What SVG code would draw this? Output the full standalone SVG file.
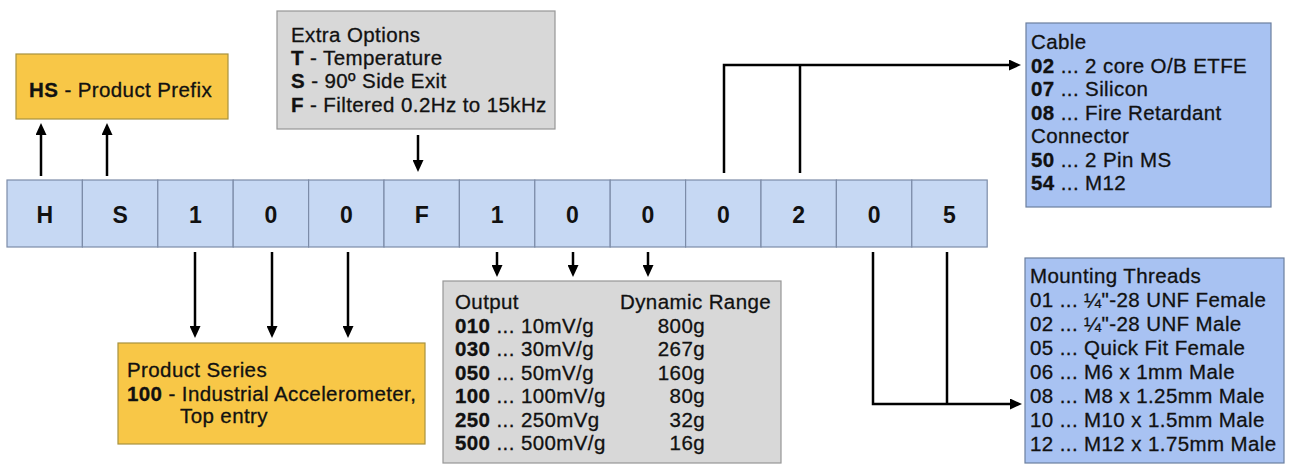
<svg xmlns="http://www.w3.org/2000/svg" width="1296" height="464" viewBox="0 0 1296 464">
<style>
  text { font-family: "Liberation Sans", Arial, sans-serif; fill: #111; }
  .t { font-size: 20.5px; letter-spacing: 0.4px; stroke: #111; stroke-width: 0.3px; }
  .b { font-weight: bold; }
  .cell rect { fill: #C6D8F3; stroke: #7C8CA8; stroke-width: 1.2; }
  .cell text { font-size: 23px; font-weight: bold; text-anchor: middle; }
  .gold { fill: #F8C747; stroke: #A8923E; stroke-width: 1.2; }
  .gray { fill: #D8D8D8; stroke: #979797; stroke-width: 1.2; }
  .blue { fill: #A8C2F2; stroke: #6C7F9E; stroke-width: 1.2; }
  .conn { fill: none; stroke: #000; stroke-width: 2.5; }
  .arr { marker-end: url(#ah); }
  .r { text-anchor: end; }
</style>
<defs>
  <marker id="ah" viewBox="0 0 12 11" refX="7" refY="5.5" markerWidth="12" markerHeight="11" markerUnits="userSpaceOnUse" orient="auto">
    <path d="M0,0 L12,5.5 L0,11 z" fill="#000"/>
  </marker>
</defs>
<rect width="1296" height="464" fill="#fff"/>

<g id="code">
  <g class="cell" id="c-H"><rect x="7" y="180" width="75.4" height="67"/><text x="44.7" y="223">H</text></g>
  <g class="cell" id="c-S"><rect x="82.4" y="180" width="75.4" height="67"/><text x="120.1" y="223">S</text></g>
  <g class="cell" id="c-1a"><rect x="157.8" y="180" width="75.4" height="67"/><text x="195.5" y="223">1</text></g>
  <g class="cell" id="c-0a"><rect x="233.2" y="180" width="75.4" height="67"/><text x="270.9" y="223">0</text></g>
  <g class="cell" id="c-0b"><rect x="308.6" y="180" width="75.4" height="67"/><text x="346.3" y="223">0</text></g>
  <g class="cell" id="c-F"><rect x="384" y="180" width="75.4" height="67"/><text x="421.7" y="223">F</text></g>
  <g class="cell" id="c-1b"><rect x="459.4" y="180" width="75.4" height="67"/><text x="497.1" y="223">1</text></g>
  <g class="cell" id="c-0c"><rect x="534.8" y="180" width="75.4" height="67"/><text x="572.5" y="223">0</text></g>
  <g class="cell" id="c-0d"><rect x="610.2" y="180" width="75.4" height="67"/><text x="647.9" y="223">0</text></g>
  <g class="cell" id="c-0e"><rect x="685.6" y="180" width="75.4" height="67"/><text x="723.3" y="223">0</text></g>
  <g class="cell" id="c-2"><rect x="761" y="180" width="75.4" height="67"/><text x="798.7" y="223">2</text></g>
  <g class="cell" id="c-0f"><rect x="836.4" y="180" width="75.4" height="67"/><text x="874.1" y="223">0</text></g>
  <g class="cell" id="c-5"><rect x="911.8" y="180" width="75.4" height="67"/><text x="949.5" y="223">5</text></g>
</g>

<g id="prefix">
  <rect class="gold" x="16" y="54" width="212" height="65"/>
  <text class="t" x="29" y="97"><tspan class="b">HS</tspan> - Product Prefix</text>
</g>

<g id="extra">
  <rect class="gray" x="277" y="11" width="278" height="118"/>
  <text class="t" x="291" y="41.7">Extra Options</text>
  <text class="t" x="291" y="65"><tspan class="b">T</tspan> - Temperature</text>
  <text class="t" x="291" y="88.3"><tspan class="b">S</tspan> - 90º Side Exit</text>
  <text class="t" x="291" y="111.7"><tspan class="b">F</tspan> - Filtered 0.2Hz to 15kHz</text>
</g>

<g id="series">
  <rect class="gold" x="118" y="343" width="307" height="101"/>
  <text class="t" x="127" y="377">Product Series</text>
  <text class="t" x="127" y="400.5"><tspan class="b">100</tspan> - Industrial Accelerometer,</text>
  <text class="t" x="180" y="423">Top entry</text>
</g>

<g id="output">
  <rect class="gray" x="443" y="281" width="338" height="182"/>
  <text class="t" x="455" y="309">Output</text>
  <text class="t" x="620" y="309">Dynamic Range</text>
  <text class="t" x="455" y="332.5"><tspan class="b">010</tspan> ... 10mV/g</text>
  <text class="t r" x="705" y="332.5">800g</text>
  <text class="t" x="455" y="356"><tspan class="b">030</tspan> ... 30mV/g</text>
  <text class="t r" x="705" y="356">267g</text>
  <text class="t" x="455" y="379.5"><tspan class="b">050</tspan> ... 50mV/g</text>
  <text class="t r" x="705" y="379.5">160g</text>
  <text class="t" x="455" y="403"><tspan class="b">100</tspan> ... 100mV/g</text>
  <text class="t r" x="705" y="403">80g</text>
  <text class="t" x="455" y="426.5"><tspan class="b">250</tspan> ... 250mVg</text>
  <text class="t r" x="705" y="426.5">32g</text>
  <text class="t" x="455" y="450"><tspan class="b">500</tspan> ... 500mV/g</text>
  <text class="t r" x="705" y="450">16g</text>
</g>

<g id="cable">
  <rect class="blue" x="1026" y="23" width="245" height="184"/>
  <text class="t" x="1031" y="49">Cable</text>
  <text class="t" x="1031" y="72.5"><tspan class="b">02</tspan> ... 2 core O/B ETFE</text>
  <text class="t" x="1031" y="96"><tspan class="b">07</tspan> ... Silicon</text>
  <text class="t" x="1031" y="119.5"><tspan class="b">08</tspan> ... Fire Retardant</text>
  <text class="t" x="1031" y="143">Connector</text>
  <text class="t" x="1031" y="166.5"><tspan class="b">50</tspan> ... 2 Pin MS</text>
  <text class="t" x="1031" y="190"><tspan class="b">54</tspan> ... M12</text>
</g>

<g id="mounting">
  <rect class="blue" x="1025" y="258" width="259" height="205"/>
  <text class="t" x="1030" y="283">Mounting Threads</text>
  <text class="t" x="1030" y="307">01 ... ¼"-28 UNF Female</text>
  <text class="t" x="1030" y="331">02 ... ¼"-28 UNF Male</text>
  <text class="t" x="1030" y="355">05 ... Quick Fit Female</text>
  <text class="t" x="1030" y="379">06 ... M6 x 1mm Male</text>
  <text class="t" x="1030" y="403">08 ... M8 x 1.25mm Male</text>
  <text class="t" x="1030" y="427">10 ... M10 x 1.5mm Male</text>
  <text class="t" x="1030" y="451">12 ... M12 x 1.75mm Male</text>
</g>

<g id="connectors">
  <line class="conn arr" x1="41" y1="176" x2="41" y2="128"/>
  <line class="conn arr" x1="107" y1="176" x2="107" y2="128"/>
  <line class="conn arr" x1="418" y1="135" x2="418" y2="167"/>
  <line class="conn arr" x1="195" y1="252" x2="195" y2="333"/>
  <line class="conn arr" x1="272" y1="252" x2="272" y2="333"/>
  <line class="conn arr" x1="348" y1="252" x2="348" y2="333"/>
  <line class="conn arr" x1="497" y1="252" x2="497" y2="272"/>
  <line class="conn arr" x1="573" y1="252" x2="573" y2="272"/>
  <line class="conn arr" x1="648" y1="252" x2="648" y2="272"/>
  <polyline class="conn arr" points="724,173 724,65 1016,65"/>
  <line class="conn" x1="800" y1="173" x2="800" y2="65"/>
  <polyline class="conn arr" points="873,252 873,404 1017,404"/>
  <line class="conn" x1="947" y1="252" x2="947" y2="404"/>
</g>
</svg>
